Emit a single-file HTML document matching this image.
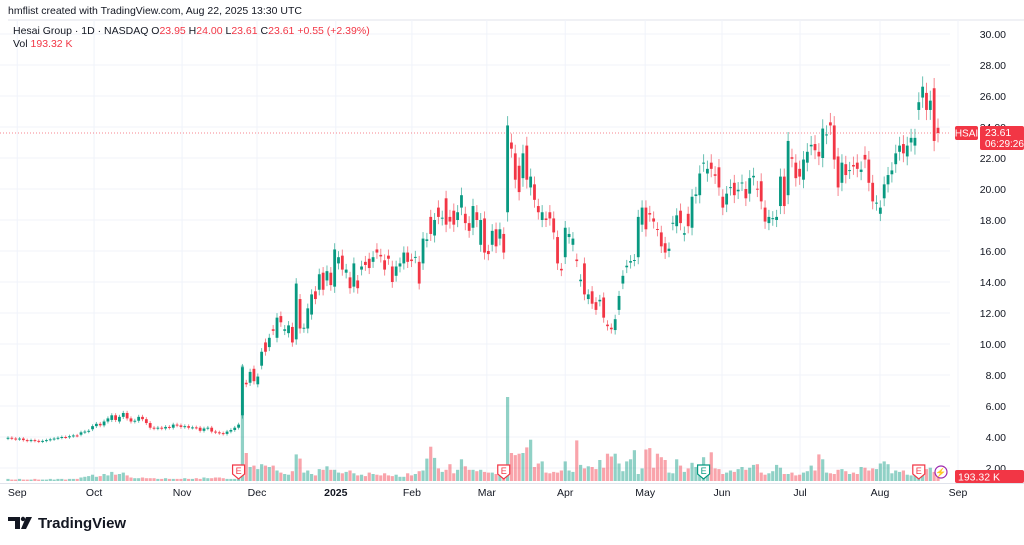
<!DOCTYPE html>
<html><head><meta charset="utf-8">
<style>
html,body{margin:0;padding:0;background:#fff;width:1024px;height:545px;overflow:hidden;font-family:"Liberation Sans",sans-serif;}
svg text{font-family:"Liberation Sans",sans-serif;}
</style></head>
<body>
<svg id="chart" width="1024" height="545" viewBox="0 0 1024 545" xmlns="http://www.w3.org/2000/svg">
<text x="8" y="14" font-size="10.5" fill="#131722">hmflist created with TradingView.com, Aug 22, 2025 13:30 UTC</text>
<line x1="8" y1="20" x2="1024" y2="20" stroke="#e0e3eb"/>
<g id="grid"></g>
<g id="vol"></g>
<line x1="0" y1="133" x2="950" y2="133" stroke="#f23645" stroke-width="1" stroke-dasharray="1,2" opacity="0.6"/>
<g id="candles"></g>
<g id="yaxis"></g>
<g id="xaxis"></g>
<g id="events"></g>
<text x="13" y="34" font-size="10.5" fill="#131722">Hesai Group · 1D · NASDAQ  <tspan fill="#131722">O</tspan><tspan fill="#f23645">23.95</tspan>  <tspan fill="#131722">H</tspan><tspan fill="#f23645">24.00</tspan>  <tspan fill="#131722">L</tspan><tspan fill="#f23645">23.61</tspan>  <tspan fill="#131722">C</tspan><tspan fill="#f23645">23.61</tspan>  <tspan fill="#f23645">+0.55 (+2.39%)</tspan></text>
<text x="13" y="47" font-size="10.5" fill="#131722">Vol <tspan fill="#f23645">193.32 K</tspan></text>
<g><rect x="955" y="126" width="23" height="14" rx="2" fill="#f23645"/><text x="966.5" y="136.5" font-size="10" fill="#fff" text-anchor="middle">HSAI</text></g>
<g><rect x="980" y="126" width="44" height="24" rx="2" fill="#f23645"/><text x="985" y="136" font-size="10.5" fill="#fff">23.61</text><text x="985" y="147" font-size="10" fill="#fff">06:29:26</text></g>
<g><rect x="955" y="470" width="69" height="13" rx="2" fill="#f23645"/><text x="958" y="480.5" font-size="10.5" fill="#fff">193.32 K</text></g>
<g>
<path d="M8 517 h12 v12 h-5 v-8 h-7 z" fill="#131722"/><circle cx="23" cy="519" r="2.2" fill="#131722"/><path d="M26 517 h6 l-6 12 h-5 z" fill="#131722"/>
<text x="38" y="528" font-size="15" font-weight="bold" fill="#131722">TradingView</text></g>
</svg>
<script>
const opens=[3.9,3.95,3.9,3.85,3.9,3.8,3.75,3.8,3.75,3.7,3.75,3.8,3.85,3.9,3.95,4.0,3.98,4.05,4.1,4.15,4.3,4.35,4.5,4.7,4.85,4.75,5.0,5.1,5.4,5.0,5.3,5.55,5.2,5.0,5.05,5.3,5.15,4.9,4.6,4.55,4.6,4.55,4.65,4.6,4.8,4.75,4.65,4.7,4.6,4.62,4.6,4.4,4.55,4.6,4.35,4.3,4.25,4.2,4.35,4.45,4.6,5.4,
7.5,7.5,8.4,7.4,8.6,10.1,9.8,10.95,10.4,11.8,10.85,10.7,11.1,10.3,12.9,11.0,11.0,11.9,13.4,13.5,14.6,14.1,14.6,13.7,15.2,15.7,14.6,14.3,13.7,14.1,14.8,15.3,15.5,15.3,16.1,15.75,15.4,15.7,15.0,14.4,15.0,15.2,15.9,15.45,15.6,15.3,15.2,16.65,18.2,17.0,18.8,18.1,19.4,18.2,18.6,18.0,18.8,18.4,17.8,17.5,18.5,16.4,18.1,16.0,16.4,17.4,16.8,17.1,18.5,
23.0,22.3,21.5,20.7,22.8,20.1,20.3,18.9,18.0,18.1,18.5,18.1,16.9,14.85,15.6,16.9,16.4,15.45,14.05,15.2,12.9,13.4,12.7,12.75,13.0,11.25,11.05,10.9,12.2,13.9,14.95,15.25,15.4,15.6,17.7,18.8,18.45,18.1,17.42,17.2,16.5,16.0,17.78,17.6,18.6,17.05,18.4,17.5,19.55,19.6,21.65,21.0,21.7,20.95,21.4,19.5,19.0,20.08,20.4,19.85,20.38,20.0,19.7,20.75,20.02,20.5,18.8,17.8,18.08,18.0,18.9,20.8,19.6,22.05,21.7,21.3,20.6,21.7,22.75,22.9,22.4,22.0,23.48,24.3,24.1,22.1,20.4,21.6,21.18,21.55,21.7,21.1,22.2,21.9,20.4,19.08,18.4,19.4,20.3,20.95,21.6,22.4,22.9,22.1,23.0,22.8,25.1,25.9,26.2,25.1,26.5,23.95];
const closes=[3.95,3.9,3.85,3.9,3.8,3.75,3.8,3.75,3.7,3.75,3.8,3.85,3.9,3.95,4.0,3.98,4.05,4.1,4.08,4.3,4.35,4.4,4.7,4.85,4.75,5.0,5.2,5.4,5.1,5.3,5.55,5.2,5.0,5.05,5.3,5.15,4.9,4.6,4.55,4.6,4.55,4.65,4.6,4.8,4.75,4.65,4.7,4.6,4.62,4.6,4.4,4.55,4.6,4.35,4.3,4.25,4.2,4.35,4.45,4.6,4.8,8.5,
7.4,8.2,7.6,7.9,9.5,9.5,10.4,10.85,11.7,11.4,10.95,11.2,10.1,13.9,11.0,11.05,12.3,13.2,12.9,14.5,13.5,14.7,13.8,16.1,15.6,14.8,14.8,13.6,15.2,13.6,15.0,15.1,14.9,15.6,15.9,15.65,14.8,15.5,14.0,15.0,15.2,15.9,15.3,15.35,15.62,13.9,16.8,16.75,17.1,18.0,18.2,18.15,17.7,17.9,17.7,18.5,19.6,17.8,17.3,18.9,18.0,18.0,15.9,15.8,17.3,16.3,17.4,15.9,24.1,
22.6,20.6,19.8,22.3,20.6,20.8,19.3,18.5,18.5,18.0,18.1,17.2,15.2,14.75,17.5,17.1,16.8,15.35,14.15,13.2,13.2,12.6,12.2,12.85,11.7,11.15,10.95,11.6,13.1,14.4,15.05,15.35,15.42,18.2,18.8,17.4,18.35,17.9,17.38,16.3,15.9,16.15,17.82,18.3,17.8,17.15,17.6,19.5,19.65,21.0,21.7,21.3,21.3,20.85,20.1,18.8,19.7,20.12,19.6,19.95,20.42,19.4,20.7,20.85,19.98,19.2,17.9,18.2,18.12,18.2,20.8,18.9,23.1,21.95,20.7,20.8,21.9,22.4,22.85,22.5,22.1,23.9,23.52,24.1,21.9,20.1,21.7,20.9,21.22,21.45,21.3,21.25,21.9,20.4,19.2,19.12,18.8,20.3,20.9,21.2,22.3,22.8,22.3,22.8,23.3,23.3,25.6,26.6,25.1,25.7,23.1,23.61];
const volumes=[0.3,0.2,0.2,0.3,0.2,0.2,0.2,0.3,0.2,0.2,0.2,0.3,0.2,0.3,0.3,0.2,0.3,0.3,0.3,0.5,0.6,0.7,0.9,0.6,0.7,1.0,0.8,1.3,0.9,1.0,1.2,0.8,0.5,0.4,0.4,0.5,0.4,0.4,0.4,0.3,0.3,0.4,0.3,0.3,0.3,0.3,0.4,0.3,0.3,0.4,0.3,0.5,0.4,0.4,0.5,0.5,0.4,0.3,0.3,0.3,0.3,16.5,
4.0,2.0,2.2,1.7,2.4,2.2,2.0,2.2,1.5,1.2,1.0,0.9,1.4,3.8,3.2,1.2,1.5,1.0,0.8,1.7,1.6,2.1,1.6,1.6,1.2,1.1,1.3,1.5,1.1,0.8,0.9,0.7,1.2,1.0,0.9,0.8,1.1,0.8,0.7,0.9,0.6,0.6,1.1,0.8,1.0,1.4,1.5,3.2,4.9,3.3,1.8,1.3,1.6,2.4,1.1,1.6,3.1,2.1,1.6,1.6,1.4,1.6,1.3,1.2,1.2,1.0,1.0,1.2,12.0,
4.0,3.7,3.9,4.0,4.8,5.9,2.0,2.5,2.8,1.2,1.1,1.3,1.2,1.5,2.8,1.5,1.3,5.8,2.3,1.8,2.1,2.0,1.7,3.0,1.9,3.9,3.5,3.9,2.5,1.4,2.8,3.1,4.4,1.0,1.8,4.5,4.7,1.9,3.9,3.4,3.0,1.2,1.1,3.1,2.2,1.3,1.8,2.6,2.0,1.8,3.4,2.3,4.1,1.8,1.7,1.0,1.2,1.5,1.3,1.7,2.0,1.6,1.9,2.3,2.4,1.2,0.9,1.1,1.4,2.3,1.9,1.0,1.0,1.2,0.8,0.9,1.2,1.4,2.2,1.5,3.8,3.1,1.2,1.1,1.0,1.6,1.7,1.4,1.0,1.2,1.0,2.0,1.9,1.5,1.8,1.7,2.5,2.8,2.4,1.1,1.5,1.3,1.5,0.9,0.8,0.8,0.7,1.6,1.7,1.9,1.3,1.2,1.0,1.4,5.5,1.0];
const priceTicks=[30,28,26,24,22,20,18,16,14,12,10,8,6,4,2];
const monthLabels=["Sep","Oct","Nov","Dec","2025","Feb","Mar","Apr","May","Jun","Jul","Aug","Sep"];
const monthIndex=[2.4,22.4,45.3,64.8,85.3,105.1,124.6,145,165.8,185.8,206.1,226.9,247.2];
const earningsIdx=[60,129,181,237];
const earningsColor=["#f23645","#f23645","#089981","#f23645"];

const NS="http://www.w3.org/2000/svg";
const N=closes.length, X0=8, X1=938;
const step=(X1-X0)/(N-1);
function xs(i){return X0+i*step;}
function yp(p){return 34+(30-p)*15.5;}
function yv(v){return 481-v*7;}
function mk(tag,attrs,parent){const e=document.createElementNS(NS,tag);for(const k in attrs)e.setAttribute(k,attrs[k]);parent.appendChild(e);return e;}
const grid=document.getElementById('grid'),vol=document.getElementById('vol'),cg=document.getElementById('candles'),ya=document.getElementById('yaxis'),xa=document.getElementById('xaxis'),ev=document.getElementById('events');

priceTicks.forEach(p=>{
  const g=mk('line',{x1:0,x2:950,y1:yp(p),y2:yp(p),stroke:'#f0f3fa'},grid);
  
  
  const t=mk('text',{x:1006,y:yp(p)+4,'font-size':10.5,fill:'#131722','text-anchor':'end'},ya);
  t.textContent=p.toFixed(2);
  
  
});
monthLabels.forEach((m,k)=>{
  const x=xs(monthIndex[k]);
  const g=mk('line',{x1:x,x2:x,y1:20,y2:483,stroke:'#f0f3fa'},grid);
  
  
  const t=mk('text',{x:x,y:496,'font-size':10.5,fill:'#131722','text-anchor':'middle','font-weight':m==='2025'?'bold':'normal'},xa);
  t.textContent=m;
  
  
});
mk('line',{x1:0,x2:1024,y1:483.5,y2:483.5,stroke:'#e0e3eb'},grid);

for(let i=0;i<N;i++){
  const o=opens[i],c=closes[i],up=c>=o;
  const col=up?'#089981':'#f23645';
  const x=xs(i);
  if(volumes[i]!==undefined){
    const r=mk('rect',{x:x-1.6,y:yv(volumes[i]),width:3.2,height:481-yv(volumes[i]),fill:up?'rgba(8,153,129,0.45)':'rgba(242,54,69,0.45)'},vol);
    
    
  }
  const w=Math.max(o,c)*0.025;
  const hi=Math.max(o,c)+w, lo=Math.min(o,c)-w;
  const l=mk('line',{x1:x,x2:x,y1:yp(hi),y2:yp(lo),stroke:col,'stroke-width':1,opacity:0.6},cg);
  
  
  const top=yp(Math.max(o,c)),bot=yp(Math.min(o,c));
  const b=mk('rect',{x:x-1.4,y:top,width:2.8,height:Math.max(1,bot-top),fill:col},cg);
  
  
}
earningsIdx.forEach((idx,k)=>{
  const x=xs(idx), col=earningsColor[k];
  const g=mk('g',{},ev);
  
  
  mk('path',{d:`M${x-6} 465 h12 v9 l-6 5 l-6 -5 z`,fill:'#fff',stroke:col,'stroke-width':1.2},g);
  const t=mk('text',{x:x,y:474,'font-size':9,fill:col,'text-anchor':'middle'},g);
  t.textContent='E';
});
const lg=mk('g',{},ev);


mk('circle',{cx:941,cy:472,r:6,fill:'#fff',stroke:'#9c27b0','stroke-width':1.2},lg);
const lt=mk('text',{x:941,y:475.5,'font-size':9,fill:'#9c27b0','text-anchor':'middle'},lg);
lt.textContent='⚡';
</script>
</body></html>
